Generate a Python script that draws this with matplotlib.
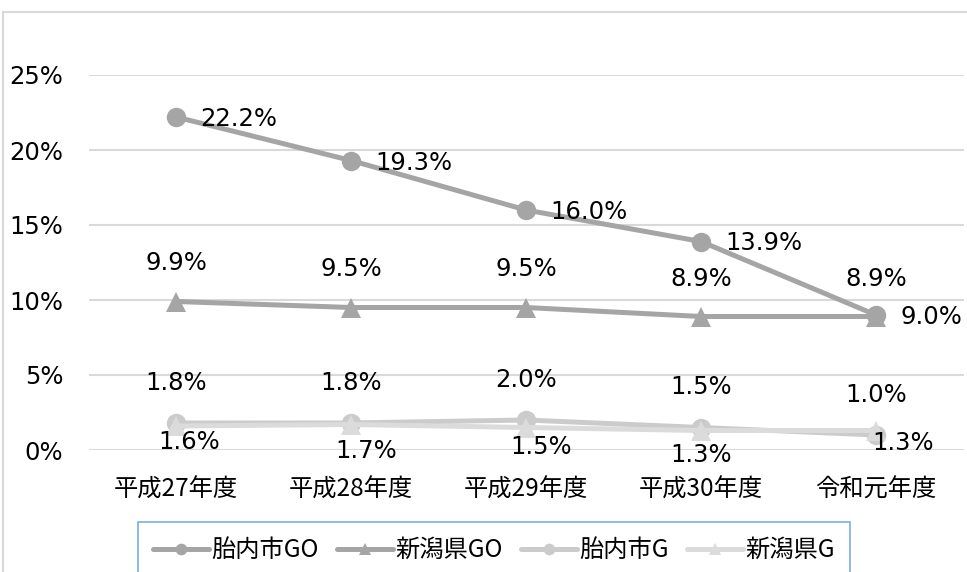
import matplotlib
matplotlib.use("Agg")
import matplotlib.pyplot as plt
from matplotlib.patches import Rectangle

years = ["平成27年度", "平成28年度", "平成29年度", "平成30年度", "令和元年度"]
tainai_go = [22.2, 19.3, 16.0, 13.9, 9.0]
niigata_go = [9.9, 9.5, 9.5, 8.9, 8.9]
tainai_g = [1.8, 1.8, 2.0, 1.5, 1.0]
niigata_g = [1.6, 1.7, 1.5, 1.3, 1.3]
yticks = [0, 5, 10, 15, 20, 25]

JP = ["Noto Sans CJK JP", "DejaVu Sans"]
NUM = "DejaVu Sans"
FS = 17.5

W, H = 967, 572
fig = plt.figure(figsize=(W / 100, H / 100), dpi=100)
fig.patch.set_facecolor("white")

# outer chart frame (runs off the right and bottom edges)
fig.patches.append(Rectangle((3 / W, -0.1), 1.2, 1.1 - 12 / H,
                             transform=fig.transFigure, fill=False,
                             edgecolor="#D9D9D9", linewidth=1.5))

ax = fig.add_axes([88.5 / W, 1 - 450 / H, 875 / W, 375 / H])
ax.set_xlim(-0.5, 4.5)
ax.set_ylim(0, 25)
for s in ax.spines.values():
    s.set_visible(False)
ax.set_yticks(yticks)
ax.set_yticklabels([f"{t}%" for t in yticks], family=NUM, fontsize=FS)
ax.grid(axis="y", color="#D9D9D9", linewidth=1.5)
ax.set_axisbelow(True)
ax.tick_params(axis="y", length=0, pad=18)
ax.set_xticks(range(len(years)))
ax.set_xticklabels(years, family=JP, fontsize=FS)
ax.tick_params(axis="x", length=0, pad=19)

x = list(range(len(years)))
series = [
    ("胎内市GO", tainai_go, "o", "#A5A5A5"),
    ("新潟県GO", niigata_go, "^", "#A5A5A5"),
    ("胎内市G", tainai_g, "o", "#CBCBCB"),
    ("新潟県G", niigata_g, "^", "#DBDBDB"),
]
lines = []
for name, vals, mk, col in series:
    ln, = ax.plot(x, vals, color=col, linewidth=3.6, marker=mk,
                  markersize=14, markeredgewidth=0, label=name,
                  solid_capstyle="round", clip_on=False)
    lines.append(ln)

# data labels: (dx, dy) in pixels per point, ha
go_t_off = [(24, -2)] * 5
go_n_off = [(0, 38)] * 5
g_t_off = [(0, 40)] * 5
g_n_off = [(13, -16), (15, -27), (15, -20), (0, -25), (24, -13)]
label_specs = [
    (tainai_go, go_t_off, "left"),
    (niigata_go, go_n_off, "center"),
    (tainai_g, g_t_off, "center"),
    (niigata_g, g_n_off, "center"),
]
for vals, offs, ha in label_specs:
    for i, (v, (dx, dy)) in enumerate(zip(vals, offs)):
        h = ha
        if vals is niigata_g and i == 4:
            h = "left"
            dx = -4
        ax.annotate(f"{v:.1f}%", (i, v), xytext=(dx, dy),
                    textcoords="offset pixels", ha=h, va="center",
                    fontsize=FS, family=NUM, color="#000000",
                    annotation_clip=False)

# legend box hangs off the bottom edge
leg = fig.legend(handles=lines, loc="upper center", ncol=4,
                 bbox_to_anchor=(494 / W, 1 - 522 / H),
                 prop={"family": JP, "size": FS}, frameon=True,
                 fancybox=False, edgecolor="#5B9BD5", handlelength=2.3,
                 columnspacing=0.75, handletextpad=0.1, borderpad=0.62,
                 markerscale=0.6, borderaxespad=0)
leg.get_frame().set_linewidth(1.2)

fig.savefig("out.png", dpi=100, facecolor="white")
